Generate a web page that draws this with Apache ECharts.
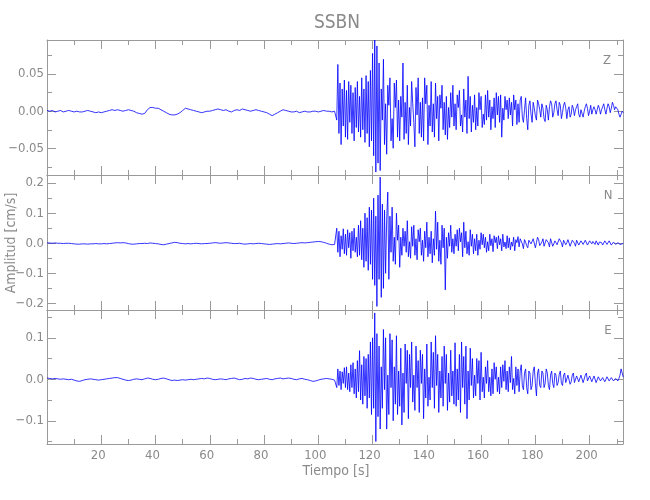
<!DOCTYPE html>
<html><head><meta charset="utf-8">
<script src="https://cdn.jsdelivr.net/npm/echarts@6/dist/echarts.min.js"></script>
<style>html,body{margin:0;padding:0;background:#fff}#c{width:650px;height:500px}</style>
</head><body><div id="c"></div>
<script>
const chartTitle = 'SSBN';
const componentNames = ['Z', 'N', 'E'];
const xAxisName = 'Tiempo [s]';
const yAxisName = 'Amplitud [cm/s]';
const timeRange = [0, 212.3];
const xMajorTicks = [20, 40, 60, 80, 100, 120, 140, 160, 180, 200];
const xMinorTicks = [10, 30, 50, 70, 90, 110, 130, 150, 170, 190, 210];
const zRange = [-0.086, 0.096];
const zMajorTicks = [-0.05, 0, 0.05];
const zMinorTicks = [-0.075, -0.025, 0.025, 0.075];
const nRange = [-0.222, 0.227];
const nMajorTicks = [-0.2, -0.1, 0, 0.1, 0.2];
const nMinorTicks = [-0.15, -0.05, 0.05, 0.15];
const eRange = [-0.156, 0.167];
const eMajorTicks = [-0.1, 0, 0.1];
const eMinorTicks = [-0.15, -0.05, 0.05, 0.15];

// sampling of the traces (seconds)
const preStart = 0, preStep = 1;
const postStart = 106.4, postStep = 0.4;

const zPre = [
0.001,0.000,0.001,-0.001,0.000,0.001,-0.001,0.000,0.001,0.000,
-0.001,0.000,-0.001,-0.001,0.000,0.001,0.000,-0.001,-0.002,-0.001,
-0.002,-0.001,0.000,0.001,0.002,0.001,0.002,0.001,0.000,0.001,
0.002,0.001,0.000,-0.002,-0.003,-0.004,-0.003,0.002,0.005,0.005,
0.004,0.004,0.002,0.000,-0.002,-0.004,-0.005,-0.005,-0.004,-0.002,
0.001,0.004,0.003,0.002,0.001,0.000,-0.001,-0.002,-0.001,0.000,
0.000,0.001,0.002,0.003,0.002,0.001,0.002,0.000,-0.001,0.001,
0.002,0.001,0.003,0.002,0.001,0.000,0.001,0.002,0.001,0.000,
-0.001,-0.002,-0.004,-0.006,-0.004,-0.002,0.000,0.002,0.001,0.000,
-0.001,-0.001,0.000,-0.002,-0.001,0.000,-0.001,-0.001,0.000,0.000,
-0.001,0.000,0.001,0.000,0.000,-0.001,0.000];
const zPost = [
0.000,-0.012,0.063,-0.030,0.038,-0.045,0.030,-0.020,0.042,-0.035,
0.028,-0.038,0.040,-0.015,0.035,-0.030,0.025,-0.040,0.032,-0.022,
0.040,-0.028,0.020,-0.035,0.045,-0.025,0.030,-0.042,0.048,-0.030,
0.040,-0.048,0.055,-0.040,0.078,-0.060,0.096,-0.082,0.088,-0.070,
0.065,-0.080,0.030,-0.012,0.070,-0.045,0.010,-0.058,0.035,0.008,
0.045,-0.040,-0.010,-0.050,0.038,0.005,0.042,-0.035,0.015,-0.040,
0.020,-0.008,0.065,-0.038,0.012,-0.030,0.035,-0.045,0.005,-0.020,
0.040,0.010,-0.015,-0.048,0.032,-0.005,0.045,-0.030,0.012,-0.035,
0.018,-0.040,0.045,0.010,0.035,-0.045,0.008,-0.020,0.040,-0.028,
0.010,-0.035,0.038,-0.010,0.020,-0.040,0.022,0.004,0.035,-0.025,
0.012,-0.032,0.020,-0.038,0.005,-0.022,0.025,-0.008,0.035,-0.020,
0.010,-0.025,0.022,0.005,0.028,-0.020,-0.005,-0.028,0.030,-0.008,
0.015,-0.030,0.047,-0.010,0.020,-0.028,0.008,-0.015,0.022,-0.025,
0.005,-0.020,0.025,0.002,0.020,-0.022,-0.004,-0.018,0.022,-0.012,
0.028,-0.008,0.015,-0.025,0.006,-0.010,0.018,-0.022,0.025,-0.005,
0.020,-0.015,0.022,-0.035,0.004,-0.012,0.020,0.002,0.015,-0.010,
0.018,-0.005,0.012,-0.020,0.022,0.002,0.015,-0.018,0.010,-0.015,
0.015,0.020,-0.008,-0.015,0.002,0.018,-0.010,-0.025,0.008,0.014,
-0.004,-0.015,0.012,0.004,-0.006,-0.012,0.015,0.010,0.002,-0.008,
0.010,0.004,-0.010,-0.014,0.008,0.002,-0.012,0.006,0.014,0.010,
-0.008,-0.002,0.010,0.014,0.002,-0.006,0.012,0.008,-0.010,-0.002,
0.008,0.012,0.004,-0.010,0.002,0.006,-0.008,-0.004,0.008,0.004,
-0.006,0.002,0.006,0.010,-0.004,-0.008,0.002,0.004,-0.008,0.000,
0.006,0.010,0.004,-0.006,0.000,0.008,-0.004,0.002,0.006,0.002,
-0.004,0.002,0.008,0.004,-0.004,0.002,0.006,0.010,0.002,-0.004,
0.004,0.010,0.006,-0.002,0.004,0.012,0.008,0.002,0.006,0.004,
0.002,-0.004,-0.008,-0.004,0.000,-0.002];

const nPre = [
0.001,0.001,0.000,0.001,0.000,0.000,-0.001,0.000,0.000,-0.001,
-0.002,-0.003,-0.003,-0.002,-0.002,-0.003,-0.002,-0.002,-0.001,-0.002,
-0.002,-0.001,-0.002,-0.001,0.000,0.001,0.002,0.001,0.002,0.001,
-0.001,-0.003,-0.003,-0.002,-0.001,-0.001,0.000,-0.001,0.001,0.000,
-0.001,-0.002,-0.004,-0.005,-0.003,-0.001,0.001,0.003,0.002,0.000,
-0.001,-0.002,-0.001,-0.002,-0.001,0.000,-0.001,-0.002,-0.001,-0.001,
0.000,0.001,0.002,0.001,0.000,0.001,0.002,0.001,0.000,-0.001,
-0.001,0.000,-0.002,-0.003,-0.002,-0.001,-0.002,-0.001,0.000,-0.001,
-0.002,-0.003,-0.004,-0.003,-0.002,-0.001,-0.002,-0.001,0.000,0.001,
0.000,-0.001,0.000,0.001,0.002,0.001,0.002,0.003,0.004,0.005,
0.006,0.005,0.003,0.000,-0.003,-0.005,-0.004];
const nPost = [
-0.005,0.050,-0.030,0.040,-0.045,0.025,-0.020,0.048,-0.035,0.030,
-0.040,0.045,-0.015,0.035,-0.050,0.040,-0.025,0.050,-0.030,0.020,
-0.045,0.060,-0.040,0.075,-0.055,0.050,-0.080,0.100,-0.060,0.085,
-0.090,0.120,-0.070,0.110,-0.120,0.150,-0.140,0.090,-0.210,0.160,
-0.120,0.220,-0.180,0.130,-0.150,0.110,-0.100,0.080,0.170,-0.120,
0.090,-0.030,0.120,-0.060,0.020,-0.070,0.100,0.010,0.060,-0.080,
0.020,-0.040,0.050,-0.010,0.040,-0.030,0.075,-0.045,0.005,-0.050,
0.055,-0.010,0.060,-0.040,0.015,-0.055,0.045,0.005,0.050,-0.040,
0.010,-0.060,0.040,-0.015,0.070,-0.045,0.020,-0.035,0.040,-0.065,
0.015,-0.040,0.107,-0.020,0.070,-0.060,0.010,-0.070,0.060,-0.015,
0.050,-0.155,0.020,-0.050,0.035,-0.010,0.060,-0.030,0.015,-0.035,
0.030,-0.010,0.045,-0.025,0.050,0.005,0.035,-0.045,0.070,-0.015,
0.040,-0.035,0.005,-0.040,0.045,-0.010,0.030,-0.035,0.015,-0.025,
0.030,-0.040,0.010,-0.020,0.035,-0.005,0.030,-0.015,0.020,-0.030,
0.005,-0.025,0.030,-0.008,0.015,-0.028,0.025,0.002,0.020,-0.018,
0.025,-0.005,0.015,-0.025,0.030,-0.012,0.004,-0.018,0.025,-0.015,
0.018,-0.022,0.004,-0.010,0.020,-0.025,0.012,0.002,0.022,-0.012,
0.015,0.020,-0.002,-0.018,0.012,0.004,-0.008,-0.015,0.010,0.015,
-0.002,-0.008,0.015,0.010,-0.015,0.002,0.020,0.012,-0.008,-0.012,
0.004,0.015,-0.010,-0.005,0.012,0.018,0.002,-0.012,0.015,0.010,
-0.010,-0.002,0.008,0.012,-0.005,-0.010,0.015,0.018,0.002,-0.012,
0.010,0.015,-0.005,0.002,0.012,0.008,-0.010,-0.006,0.010,0.012,
0.000,-0.010,0.010,0.006,-0.006,-0.002,0.008,0.012,-0.004,-0.008,
0.010,0.008,-0.006,-0.004,0.008,0.012,-0.002,0.006,0.010,-0.004,
0.008,0.006,-0.006,0.004,0.010,0.002,-0.006,-0.002,0.008,0.004,
-0.004,0.002,0.008,0.004,-0.006,-0.002,0.004,0.002,-0.004,0.000,
0.002,-0.002,-0.004,0.000,-0.002,0.000];

const ePre = [
0.003,0.002,0.001,0.002,0.001,0.000,0.001,0.000,-0.001,0.000,
-0.002,-0.004,-0.005,-0.003,-0.001,0.000,0.001,0.000,-0.001,-0.002,
-0.001,0.000,0.001,0.002,0.003,0.004,0.004,0.002,0.000,-0.002,
-0.003,-0.002,0.000,0.001,0.000,-0.001,0.001,0.003,0.002,0.000,
-0.001,0.000,0.002,0.003,0.001,-0.001,-0.003,-0.002,-0.003,-0.002,
-0.001,-0.002,-0.001,0.000,-0.001,0.000,0.001,0.002,0.001,0.003,
0.002,0.000,-0.001,0.000,0.001,0.000,-0.001,0.001,0.002,0.003,
0.001,-0.001,0.000,0.002,0.001,0.003,0.002,0.000,-0.001,0.000,
0.001,0.002,0.000,-0.001,0.001,0.002,0.003,0.001,0.002,0.003,
0.002,0.000,-0.001,0.001,0.002,0.000,-0.001,-0.003,-0.005,-0.004,
-0.002,0.000,0.001,0.002,0.001,0.000,-0.002];
const ePost = [
0.000,-0.020,0.025,-0.015,0.020,-0.025,0.018,-0.010,0.028,-0.020,
0.030,-0.025,0.015,-0.030,0.035,-0.020,0.040,-0.035,0.025,-0.045,
0.045,-0.030,0.069,-0.050,0.035,-0.060,0.055,-0.040,0.050,-0.070,
0.060,-0.045,0.090,-0.085,0.100,-0.070,0.160,-0.150,0.110,-0.090,
0.080,-0.120,0.030,-0.070,0.120,-0.025,0.100,-0.120,0.010,-0.085,
0.110,-0.020,0.095,-0.100,0.030,-0.060,0.105,-0.085,0.020,-0.065,
0.075,-0.110,0.015,-0.080,0.085,-0.010,0.070,-0.095,0.060,-0.020,
0.090,-0.055,0.010,-0.075,0.080,-0.020,0.045,-0.080,0.070,-0.010,
0.060,-0.095,0.025,-0.045,0.085,-0.065,0.005,-0.050,0.090,-0.020,
0.065,-0.070,0.105,-0.015,0.060,-0.080,0.020,-0.045,0.055,-0.065,
0.080,-0.010,0.060,-0.075,0.015,-0.055,0.070,-0.040,0.020,-0.060,
0.088,-0.065,0.025,-0.050,0.060,-0.080,0.090,-0.020,0.055,-0.060,
0.080,-0.095,0.020,-0.050,0.075,-0.015,0.050,-0.045,0.010,-0.040,
0.050,-0.010,0.045,-0.050,0.065,-0.030,0.005,-0.045,0.030,-0.010,
0.045,-0.030,0.005,-0.040,0.025,-0.035,0.040,0.000,0.030,-0.030,
0.005,-0.035,0.030,-0.020,0.035,-0.005,0.045,-0.025,0.020,-0.030,
0.030,-0.008,0.055,-0.025,0.002,-0.035,0.030,-0.015,0.025,-0.030,
0.020,0.035,-0.015,-0.025,0.015,0.025,-0.020,-0.035,0.020,0.015,
-0.025,-0.015,0.020,0.030,-0.010,-0.040,0.015,0.025,-0.015,-0.020,
0.020,0.015,-0.020,-0.010,0.025,0.015,-0.015,-0.025,0.010,0.020,
-0.010,-0.020,0.015,0.010,-0.015,-0.008,0.012,0.020,-0.010,-0.015,
0.010,0.015,-0.008,-0.012,0.010,0.008,-0.012,-0.006,0.010,0.015,
-0.008,-0.012,0.008,0.012,-0.006,-0.010,0.010,0.006,-0.008,-0.005,
0.010,0.015,-0.004,-0.008,0.008,0.012,-0.006,-0.004,0.008,0.006,
-0.008,-0.004,0.006,0.010,-0.004,-0.008,0.004,0.008,-0.006,-0.002,
0.006,0.008,-0.004,-0.006,0.004,0.002,-0.004,-0.008,0.002,0.004,
-0.004,0.002,0.010,0.025,0.015,0.005];

function buildTrace(pre, post) {
  const pts = [];
  pre.forEach((v, i) => pts.push([preStart + i * preStep, v]));
  post.forEach((v, i) => pts.push([postStart + i * postStep, v]));
  return pts;
}

const FONT = '"Liberation Sans Narrow", "DejaVu Sans Condensed", "Liberation Sans", sans-serif';
const AXIS_COLOR = '#9a9a9a';
const TEXT_COLOR = '#8a8a8a';
const panels = [
  { range: zRange, major: zMajorTicks, minor: zMinorTicks, digits: 2, data: buildTrace(zPre, zPost), top: 40, height: 135 },
  { range: nRange, major: nMajorTicks, minor: nMinorTicks, digits: 1, data: buildTrace(nPre, nPost), top: 175, height: 135 },
  { range: eRange, major: eMajorTicks, minor: eMinorTicks, digits: 1, data: buildTrace(ePre, ePost), top: 310, height: 134 }
];

const grid = [], xAxis = [], yAxis = [], series = [];
function fmt(d) { return v => (v < 0 ? '\u2212' : '') + Math.abs(v).toFixed(d); }

panels.forEach((p, k) => {
  const isLast = k === panels.length - 1;
  for (let layer = 0; layer < 2; layer++) {
    const gi = grid.length;
    grid.push({ left: 47, right: 27, top: p.top, height: p.height, containLabel: false });
    const major = layer === 0;
    const xt = major ? xMajorTicks : xMinorTicks;
    const yt = major ? p.major : p.minor;
    const len = major ? 9 : 5;
    ['bottom', 'top'].forEach(pos => {
      xAxis.push({
        type: 'value', gridIndex: gi, position: pos, min: timeRange[0], max: timeRange[1],
        axisLine: { show: major, onZero: false, lineStyle: { color: AXIS_COLOR, width: 1 } },
        axisTick: { show: true, inside: true, length: len, customValues: xt, lineStyle: { color: AXIS_COLOR } },
        axisLabel: { show: major && isLast && pos === 'bottom', customValues: xMajorTicks, color: TEXT_COLOR,
          fontFamily: FONT, fontSize: 13, margin: 5, padding: [0, 6, 0, 0] },
        splitLine: { show: false }
      });
    });
    ['left', 'right'].forEach(pos => {
      yAxis.push({
        type: 'value', gridIndex: gi, position: pos, min: p.range[0], max: p.range[1],
        axisLine: { show: major, onZero: false, lineStyle: { color: AXIS_COLOR, width: 1 } },
        axisTick: { show: true, inside: true, length: len, customValues: yt, lineStyle: { color: AXIS_COLOR } },
        axisLabel: { show: major && pos === 'left', customValues: p.major, formatter: fmt(p.digits),
          color: TEXT_COLOR, fontFamily: FONT, fontSize: 13, margin: 3 },
        splitLine: { show: false }
      });
    });
    if (major) {
      series.push({
        type: 'line', xAxisIndex: xAxis.length - 2, yAxisIndex: yAxis.length - 2,
        data: p.data, showSymbol: false, symbol: 'none', sampling: null, clip: true,
        lineStyle: { color: '#0000ff', width: 0.8 }, animation: false, silent: true
      });
    }
  }
});

const txt = (text, x, y, size, rot) => ({
  type: 'text', x, y, rotation: rot || 0, silent: true,
  style: { text, fill: TEXT_COLOR, font: size + 'px ' + FONT, textAlign: 'center', textVerticalAlign: 'middle' }
});

const chart = echarts.init(document.getElementById('c'), null, { renderer: 'canvas' });
chart.setOption({
  animation: false,
  backgroundColor: '#ffffff',
  grid, xAxis, yAxis, series,
  graphic: [
    txt(chartTitle, 337, 23, 19),
    txt(componentNames[0], 607, 61, 13),
    txt(componentNames[1], 608, 196, 13),
    txt(componentNames[2], 608, 331, 13),
    txt(xAxisName, 336, 471, 14),
    txt(yAxisName, 11, 243, 14, Math.PI / 2)
  ]
});
</script>
</body></html>
